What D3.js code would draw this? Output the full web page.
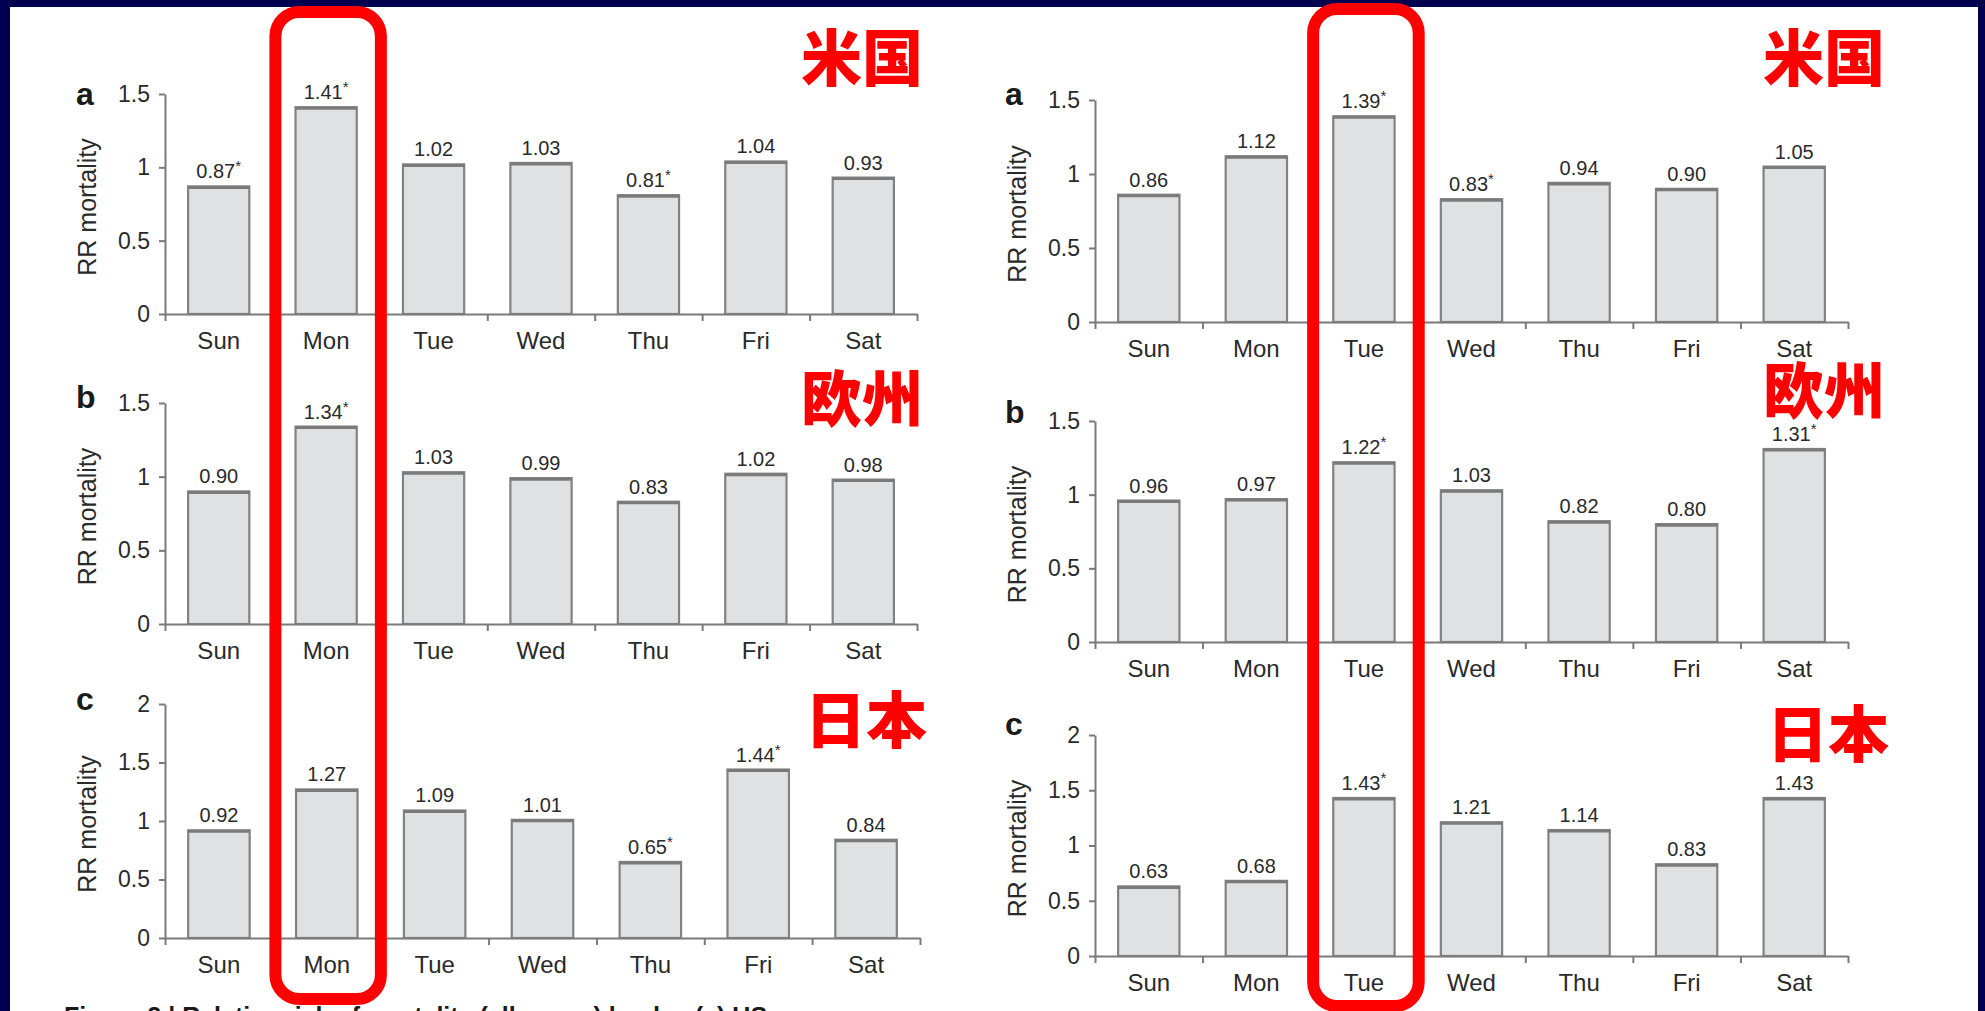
<!DOCTYPE html>
<html>
<head>
<meta charset="utf-8">
<script src="https://cdn.jsdelivr.net/npm/d3@7"></script>
<style>
  html, body { margin: 0; padding: 0; background: #000050; overflow: hidden; }
  svg { display: block; }
</style>
</head>
<body>
<div id="chart"></div>
<script>
// Day-of-week relative risk of mortality, two figures side by side (US / Europe / Japan)

const days = ['Sun', 'Mon', 'Tue', 'Wed', 'Thu', 'Fri', 'Sat'];

// left figure
const usLeft = [0.87, 1.41, 1.02, 1.03, 0.81, 1.04, 0.93];
const usLeftSig = [1, 1, 0, 0, 1, 0, 0];
const euLeft = [0.90, 1.34, 1.03, 0.99, 0.83, 1.02, 0.98];
const euLeftSig = [0, 1, 0, 0, 0, 0, 0];
const jpLeft = [0.92, 1.27, 1.09, 1.01, 0.65, 1.44, 0.84];
const jpLeftSig = [0, 0, 0, 0, 1, 1, 0];

// right figure
const usRight = [0.86, 1.12, 1.39, 0.83, 0.94, 0.90, 1.05];
const usRightSig = [0, 0, 1, 1, 0, 0, 0];
const euRight = [0.96, 0.97, 1.22, 1.03, 0.82, 0.80, 1.31];
const euRightSig = [0, 0, 1, 0, 0, 0, 1];
const jpRight = [0.63, 0.68, 1.43, 1.21, 1.14, 0.83, 1.43];
const jpRightSig = [0, 0, 1, 0, 0, 0, 0];

const ticksLow = [0, 0.5, 1, 1.5];
const ticksHigh = [0, 0.5, 1, 1.5, 2];
const panelLetters = ['a', 'b', 'c'];
const regionNames = ['米国', '欧州', '日本'];
const highlightDays = ['Mon', 'Tue'];
const captionText = 'Figure 2 | Relative risk of mortality (all cause) by day (a) US';

const W = 1985, H = 1011;
const FONT = '"Liberation Sans", Arial, Helvetica, sans-serif';
const CJK = '"Noto Sans CJK JP", "Noto Sans CJK SC", sans-serif';

const svg = d3.select('#chart').append('svg')
    .attr('width', W)
    .attr('height', H);

// white slide area inside the navy frame
svg.append('rect')
    .attr('x', 10).attr('y', 7)
    .attr('width', 1968).attr('height', H)
    .attr('fill', '#ffffff');

// panel geometry (pixel layout only)
const panels = [
    { vals: usLeft, sig: usLeftSig, ticks: ticksLow, x0: 165, x1: 917, y0: 314, y1: 94, letter: 0, lx: 76, ly: 105, rx: 801, ry: 81 },
    { vals: euLeft, sig: euLeftSig, ticks: ticksLow, x0: 165, x1: 917, y0: 624, y1: 403, letter: 1, lx: 76, ly: 408, rx: 801, ry: 422 },
    { vals: jpLeft, sig: jpLeftSig, ticks: ticksHigh, x0: 165, x1: 920, y0: 938, y1: 704, letter: 2, lx: 76, ly: 710, rx: 805, ry: 743 },
    { vals: usRight, sig: usRightSig, ticks: ticksLow, x0: 1095, x1: 1848, y0: 322, y1: 100, letter: 0, lx: 1005, ly: 105, rx: 1763, ry: 81 },
    { vals: euRight, sig: euRightSig, ticks: ticksLow, x0: 1095, x1: 1848, y0: 642, y1: 421, letter: 1, lx: 1005, ly: 423, rx: 1763, ry: 414 },
    { vals: jpRight, sig: jpRightSig, ticks: ticksHigh, x0: 1095, x1: 1848, y0: 956, y1: 735, letter: 2, lx: 1005, ly: 735, rx: 1767, ry: 757 }
];

function drawPanel(p) {
    const g = svg.append('g');
    const yMax = d3.max(p.ticks);

    const x = d3.scaleBand()
        .domain(days)
        .range([p.x0, p.x1])
        .paddingInner(0.43)
        .paddingOuter(0.215);

    // band edges for the tick marks between days
    const edges = d3.scaleLinear()
        .domain([0, days.length])
        .range([p.x0, p.x1]);

    const y = d3.scaleLinear()
        .domain([0, yMax])
        .range([p.y0, p.y1]);

    // bars
    const bars = g.selectAll('.bar')
        .data(p.vals)
        .join('g');

    bars.append('rect')
        .attr('x', (d, i) => x(days[i]))
        .attr('y', d => y(d))
        .attr('width', x.bandwidth())
        .attr('height', d => y(0) - y(d))
        .attr('fill', '#e0e1e3')
        .attr('stroke', '#828282')
        .attr('stroke-width', 2.2);

    bars.append('line')
        .attr('x1', (d, i) => x(days[i]))
        .attr('x2', (d, i) => x(days[i]) + x.bandwidth())
        .attr('y1', d => y(d) + 1)
        .attr('y2', d => y(d) + 1)
        .attr('stroke', '#7a7a7a')
        .attr('stroke-width', 3);

    // value labels
    const lab = bars.append('text')
        .attr('x', (d, i) => x(days[i]) + x.bandwidth() / 2)
        .attr('y', d => y(d) - 8)
        .attr('text-anchor', 'middle')
        .attr('font-family', FONT)
        .attr('font-size', 20)
        .attr('fill', '#2a2a2a');
    lab.append('tspan').text(d => d3.format('.2f')(d));
    lab.append('tspan')
        .attr('dy', -7)
        .attr('font-size', 15)
        .text((d, i) => p.sig[i] ? '*' : '');

    // y axis
    const yAxis = g.append('g')
        .attr('transform', `translate(${p.x0},0)`)
        .call(d3.axisLeft(y).tickValues(p.ticks).tickFormat(d => String(d)).tickSize(6).tickPadding(9).tickSizeOuter(0));
    yAxis.selectAll('text')
        .attr('font-family', FONT)
        .attr('font-size', 23)
        .attr('fill', '#2a2a2a');

    // x axis line with ticks at band edges
    g.append('g')
        .attr('transform', `translate(0,${p.y0})`)
        .call(d3.axisBottom(edges).tickValues(d3.range(0, days.length + 1)).tickFormat('').tickSize(7).tickSizeOuter(0));

    // day labels
    const xAxis = g.append('g')
        .attr('transform', `translate(0,${p.y0})`)
        .call(d3.axisBottom(x).tickSize(0).tickPadding(18));
    xAxis.select('.domain').remove();
    xAxis.selectAll('text')
        .attr('font-family', FONT)
        .attr('font-size', 24)
        .attr('fill', '#2a2a2a');

    g.selectAll('.domain, .tick line')
        .attr('stroke', '#7a7a7a')
        .attr('stroke-width', 2);

    // y title
    g.append('text')
        .attr('transform', `translate(${p.x0 - 69},${(p.y0 + p.y1) / 2 + 3}) rotate(-90)`)
        .attr('text-anchor', 'middle')
        .attr('font-family', FONT)
        .attr('font-size', 25)
        .attr('fill', '#2a2a2a')
        .text('RR mortality');

    // panel letter
    g.append('text')
        .attr('x', p.lx)
        .attr('y', p.ly)
        .attr('font-family', FONT)
        .attr('font-weight', 'bold')
        .attr('font-size', 32)
        .attr('fill', '#1a1a1a')
        .text(panelLetters[p.letter]);

    // region name
    g.append('text')
        .attr('x', p.rx)
        .attr('y', p.ry)
        .attr('font-family', CJK)
        .attr('font-weight', 900)
        .attr('font-size', 61)
        .attr('fill', '#ff0000')
        .text(regionNames[p.letter]);
}

panels.forEach(drawPanel);

// caption, cut by the bottom edge
svg.append('text')
    .attr('x', 64)
    .attr('y', 1025)
    .attr('font-family', FONT)
    .attr('font-weight', 'bold')
    .attr('font-size', 25)
    .attr('fill', '#1a1a1a')
    .text(captionText);

// red highlight boxes around Mon (left) and Tue (right)
const boxes = [
    { day: highlightDays[0], x0: 165, x1: 917, top: 12, bottom: 999 },
    { day: highlightDays[1], x0: 1095, x1: 1848, top: 9, bottom: 1006 }
];
boxes.forEach(b => {
    const x = d3.scaleBand().domain(days).range([b.x0, b.x1]);
    svg.append('rect')
        .attr('x', x(b.day) + 3)
        .attr('y', b.top)
        .attr('width', x.bandwidth() - 2)
        .attr('height', b.bottom - b.top)
        .attr('rx', 24)
        .attr('fill', 'none')
        .attr('stroke', '#ff0000')
        .attr('stroke-width', 12);
});

// navy right edge
svg.append('rect')
    .attr('x', 1978).attr('y', 0)
    .attr('width', 7).attr('height', H)
    .attr('fill', '#000048');
</script>
</body>
</html>
